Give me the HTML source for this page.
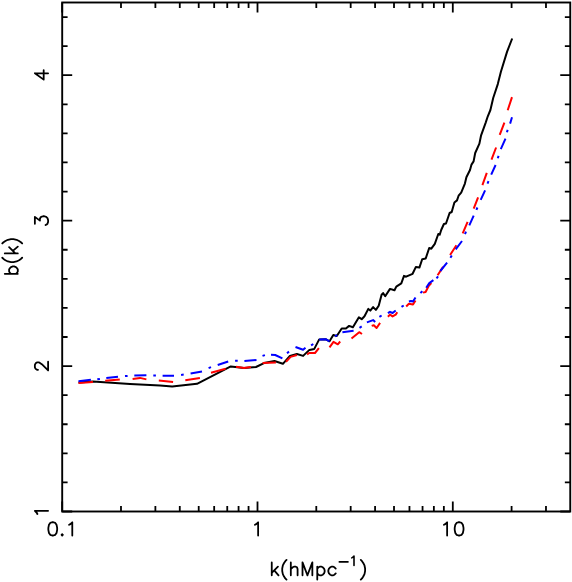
<!DOCTYPE html>
<html><head><meta charset="utf-8"><title>b(k)</title>
<style>
html,body{margin:0;padding:0;background:#fff;}
svg{display:block;}
</style></head>
<body>
<svg width="572" height="582" viewBox="0 0 572 582">
<rect x="0" y="0" width="572" height="582" fill="#fff"/>
<g fill="none" stroke-linejoin="round">
<polyline points="78.5,382.5 93.0,381.6 130.0,384.0 160.0,385.6 172.2,386.5 197.0,383.8 230.8,366.4 244.0,368.1 256.0,367.0 264.0,363.1 274.5,361.0 282.9,363.8 289.9,355.9 296.9,354.0 303.1,355.9 309.4,349.9 314.3,348.9 319.2,339.4 325.6,339.2 329.5,341.3 333.3,335.0 336.8,336.0 341.7,328.5 345.9,328.5 349.1,325.9 352.9,327.3 358.9,317.3 361.7,319.2 364.5,316.2 368.3,308.9 370.3,310.6 373.1,307.1 375.9,309.9 378.7,305.7 381.6,294.7 383.1,293.1 385.2,296.2 390.0,288.9 394.5,290.3 396.3,286.6 401.3,283.4 404.0,275.9 406.1,276.7 412.6,273.8 415.9,266.9 419.4,267.6 422.2,259.2 425.7,258.5 429.2,248.0 431.3,248.7 434.8,243.8 438.3,234.0 439.7,234.7 441.2,230.0 443.9,224.0 446.0,223.5 449.6,213.0 451.7,212.0 454.4,202.5 457.0,200.4 458.6,195.7 461.2,192.6 464.9,183.6 466.4,177.3 470.0,170.0 471.5,164.6 473.6,161.4 475.2,153.0 479.4,143.6 481.0,135.7 485.7,122.6 487.8,116.3 490.4,110.0 493.2,98.0 497.8,84.1 500.9,71.7 507.1,51.6 512.2,38.5" stroke="#000" stroke-width="2"/>
<path d="M78.5 382.9L93.0 381.9M105.2 380.8L119.8 379.4M132.6 378.9L140.0 377.9L146.4 379.4M158.8 380.6L173.1 382.1M185.3 380.3L199.9 378.1M211.0 372.8L225.6 368.8M236.0 366.7L244.0 368.1L250.9 367.0M262.6 363.1L275.9 362.4M286.0 361.7L290.6 356.9L296.9 355.0M307.1 354.5L309.1 353.0L315.0 353.0L318.9 348.2M329.5 347.4L333.5 341.9L337.8 344.3L340.2 341.5M351.5 338.5L359.2 332.2L362.0 334.0M371.7 325.9L373.8 325.2L376.6 328.0L380.1 322.9M387.9 316.7L390.0 314.6L392.6 316.4L395.7 314.6L397.3 312.2M406.2 306.5L408.9 303.8L413.0 304.6L415.5 300.4M423.0 292.6L425.6 292.0L428.8 285.7L431.4 283.1M437.6 275.2L443.1 266.9M450.1 255.0L456.4 245.2M462.7 233.3L467.6 221.8M473.7 208.7L478.1 197.3M482.4 185.1L486.8 172.8M491.5 159.7L496.1 147.5M499.7 134.9L504.4 122.6M507.7 110.3L512.0 97.1" stroke="#f00" stroke-width="2"/>
<path d="M78.5 381.2L90.9 379.8M97.3 379.3L99.9 378.9M106.3 378.0L118.0 376.7M125.0 376.1L127.6 375.9M134.3 375.5L146.4 375.3M153.3 375.5L155.9 375.5M162.6 375.8L174.0 375.8M181.1 375.0L183.7 374.6M190.6 373.4L202.0 371.4M208.6 368.1L211.0 367.1M217.7 365.0L228.2 361.5M235.1 360.8L237.7 360.8M244.4 361.1L256.5 359.9M262.5 355.9L264.9 355.1M271.0 354.8L275.2 355.0L282.4 358.3M287.0 353.2L289.0 351.6M295.5 347.0L303.1 349.8L305.5 347.8M311.1 345.4L313.3 344.0M319.2 339.4L325.6 339.2L329.5 341.3M335.0 336.4L337.2 335.0M342.4 332.2L353.6 330.8M359.5 327.8L361.7 326.4M366.9 322.4L373.1 320.1L375.2 322.0M379.4 316.9L381.6 315.5M387.9 313.2L390.0 311.8L392.6 313.0L395.7 310.4M401.5 306.9L403.7 305.5M408.9 301.5L411.0 301.0L413.0 301.5L415.5 297.5M420.4 293.1L422.4 291.3M426.2 287.8L429.3 283.1L433.4 280.1M436.5 278.3L438.1 276.3M440.3 271.0L447.1 262.7M450.4 257.7L451.8 255.5M455.7 249.4L462.0 241.0M465.0 234.1L466.0 231.7M469.3 225.3L473.7 215.7M476.4 209.9L477.4 207.5M480.7 199.9L485.1 190.3M487.5 183.6L488.5 181.2M491.2 174.6L495.6 165.0M497.8 158.3L498.6 155.9M500.8 149.2L505.5 138.7M506.9 132.3L507.7 129.9M510.1 123.6L512.0 117.3" stroke="#00f" stroke-width="2"/>
</g>
<rect x="62.2" y="2.5" width="508.05" height="509.0" fill="none" stroke="#000" stroke-width="1.9"/>
<path d="M62.20 511.5v-10M62.20 2.5v10M120.99 511.5v-5.4M120.99 2.5v5.4M155.38 511.5v-5.4M155.38 2.5v5.4M179.78 511.5v-5.4M179.78 2.5v5.4M198.71 511.5v-5.4M198.71 2.5v5.4M214.17 511.5v-5.4M214.17 2.5v5.4M227.25 511.5v-5.4M227.25 2.5v5.4M238.57 511.5v-5.4M238.57 2.5v5.4M248.56 511.5v-5.4M248.56 2.5v5.4M257.50 511.5v-10M257.50 2.5v10M316.29 511.5v-5.4M316.29 2.5v5.4M350.68 511.5v-5.4M350.68 2.5v5.4M375.08 511.5v-5.4M375.08 2.5v5.4M394.01 511.5v-5.4M394.01 2.5v5.4M409.47 511.5v-5.4M409.47 2.5v5.4M422.55 511.5v-5.4M422.55 2.5v5.4M433.87 511.5v-5.4M433.87 2.5v5.4M443.86 511.5v-5.4M443.86 2.5v5.4M452.80 511.5v-10M452.80 2.5v10M511.59 511.5v-5.4M511.59 2.5v5.4M545.98 511.5v-5.4M545.98 2.5v5.4M62.2 511.50h10M570.25 511.50h-10M62.2 482.41h5.4M570.25 482.41h-5.4M62.2 453.33h5.4M570.25 453.33h-5.4M62.2 424.24h5.4M570.25 424.24h-5.4M62.2 395.16h5.4M570.25 395.16h-5.4M62.2 366.07h10M570.25 366.07h-10M62.2 336.98h5.4M570.25 336.98h-5.4M62.2 307.90h5.4M570.25 307.90h-5.4M62.2 278.81h5.4M570.25 278.81h-5.4M62.2 249.73h5.4M570.25 249.73h-5.4M62.2 220.64h10M570.25 220.64h-10M62.2 191.55h5.4M570.25 191.55h-5.4M62.2 162.47h5.4M570.25 162.47h-5.4M62.2 133.38h5.4M570.25 133.38h-5.4M62.2 104.30h5.4M570.25 104.30h-5.4M62.2 75.21h10M570.25 75.21h-10M62.2 46.12h5.4M570.25 46.12h-5.4M62.2 17.04h5.4M570.25 17.04h-5.4" fill="none" stroke="#000" stroke-width="1.8"/>
<path d="M37.39 514.02L36.76 512.76L34.87 510.87L48.10 510.87M38.02 369.85L37.39 369.85L36.13 369.22L35.50 368.59L34.87 367.33L34.87 364.81L35.50 363.55L36.13 362.92L37.39 362.29L38.65 362.29L39.91 362.92L41.80 364.18L48.10 370.48L48.10 361.66M34.87 223.79L34.87 216.86L39.91 220.64L39.91 218.75L40.54 217.49L41.17 216.86L43.06 216.23L44.32 216.23L46.21 216.86L47.47 218.12L48.10 220.01L48.10 221.90L47.47 223.79L46.84 224.42L45.58 225.05M34.87 73.32L43.69 79.62L43.69 70.17M34.87 73.32L48.10 73.32M52.12 522.27L50.23 522.90L48.97 524.79L48.34 527.94L48.34 529.83L48.97 532.98L50.23 534.87L52.12 535.50L53.38 535.50L55.27 534.87L56.53 532.98L57.16 529.83L57.16 527.94L56.53 524.79L55.27 522.90L53.38 522.27L52.12 522.27M62.20 534.24L61.57 534.87L62.20 535.50L62.83 534.87L62.20 534.24M69.13 524.79L70.39 524.16L72.28 522.27L72.28 535.50M254.98 524.79L256.24 524.16L258.13 522.27L258.13 535.50M443.98 524.79L445.24 524.16L447.13 522.27L447.13 535.50M458.47 522.27L456.58 522.90L455.32 524.79L454.69 527.94L454.69 529.83L455.32 532.98L456.58 534.87L458.47 535.50L459.73 535.50L461.62 534.87L462.88 532.98L463.51 529.83L463.51 527.94L462.88 524.79L461.62 522.90L459.73 522.27L458.47 522.27M4.78 273.86L17.80 273.86M10.98 273.86L9.74 272.62L9.12 271.38L9.12 269.52L9.74 268.28L10.98 267.04L12.84 266.42L14.08 266.42L15.94 267.04L17.18 268.28L17.80 269.52L17.80 271.38L17.18 272.62L15.94 273.86M2.30 257.74L3.54 258.98L5.40 260.22L7.88 261.46L10.98 262.08L13.46 262.08L16.56 261.46L19.04 260.22L20.90 258.98L22.14 257.74M4.78 253.40L17.80 253.40M9.12 247.20L15.32 253.40M12.84 250.92L17.80 246.58M2.30 243.48L3.54 242.24L5.40 241.00L7.88 239.76L10.98 239.14L13.46 239.14L16.56 239.76L19.04 241.00L20.90 242.24L22.14 243.48M271.76 562.38L271.76 575.30M277.91 566.69L271.76 572.84M274.22 570.38L278.53 575.30M286.52 559.92L285.29 561.15L284.06 563.00L282.83 565.46L282.22 568.53L282.22 571.00L282.83 574.07L284.06 576.53L285.29 578.38L286.52 579.60M290.82 562.38L290.82 575.30M290.82 569.15L292.67 567.30L293.90 566.69L295.75 566.69L296.98 567.30L297.59 569.15L297.59 575.30M302.51 562.38L302.51 575.30M302.51 562.38L307.43 575.30M312.35 562.38L307.43 575.30M312.35 562.38L312.35 575.30M317.27 566.69L317.27 579.60M317.27 568.53L318.50 567.30L319.73 566.69L321.57 566.69L322.81 567.30L324.04 568.53L324.65 570.38L324.65 571.61L324.04 573.45L322.81 574.68L321.57 575.30L319.73 575.30L318.50 574.68L317.27 573.45M335.72 568.53L334.49 567.30L333.26 566.69L331.42 566.69L330.19 567.30L328.96 568.53L328.34 570.38L328.34 571.61L328.96 573.45L330.19 574.68L331.42 575.30L333.26 575.30L334.49 574.68L335.72 573.45M360.80 559.92L362.02 561.15L363.25 563.00L364.49 565.46L365.10 568.53L365.10 571.00L364.49 574.07L363.25 576.53L362.02 578.38L360.80 579.60" fill="none" stroke="#000" stroke-width="1.8" stroke-linecap="round" stroke-linejoin="round"/>
<path d="M339.3 561.9H348M351.75 557.85L352.65 557.40L354.00 556.05L354.00 565.50" fill="none" stroke="#000" stroke-width="1.6" stroke-linecap="round" stroke-linejoin="round"/>
</svg>
</body></html>
